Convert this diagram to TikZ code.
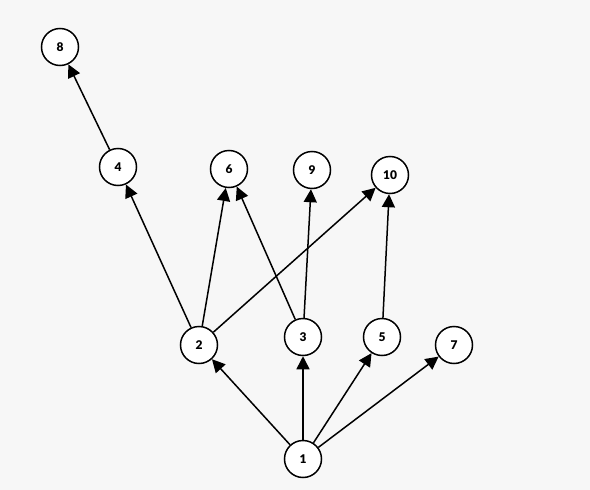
\documentclass[tikz,border=0pt]{standalone}
\usepackage{fontspec}
\setmainfont{Lato}[BoldFont={Lato Black}]
\usetikzlibrary{arrows.meta}
\definecolor{Paper}{HTML}{F7F7F7}
\tikzset{
 vertex/.style={circle, draw=black, fill=white, line width=1.5pt, minimum size=37pt, inner sep=0pt, font=\bfseries\fontsize{12}{12}\selectfont},
 edge/.style={-{Triangle[length=13pt,width=13pt]}, line width=1.5pt}
}
\begin{document}
\begin{tikzpicture}[x=1pt,y=-1pt]
\fill[Paper] (0,0) rectangle (590,490);
\foreach \n/\x/\y in {8/60/47,4/118/167,6/229/169,9/312/170,10/390/175,2/199/345,3/303/337,5/382/337,7/454/345,1/303/459}{\node[vertex] (v\n) at (\x,\y) {\n};}
\foreach \a/\b in {4/8,2/4,2/6,2/10,3/6,3/9,5/10,1/2,1/3,1/5,1/7}{\draw[edge] (v\a) -- (v\b);}
\end{tikzpicture}
\end{document}
